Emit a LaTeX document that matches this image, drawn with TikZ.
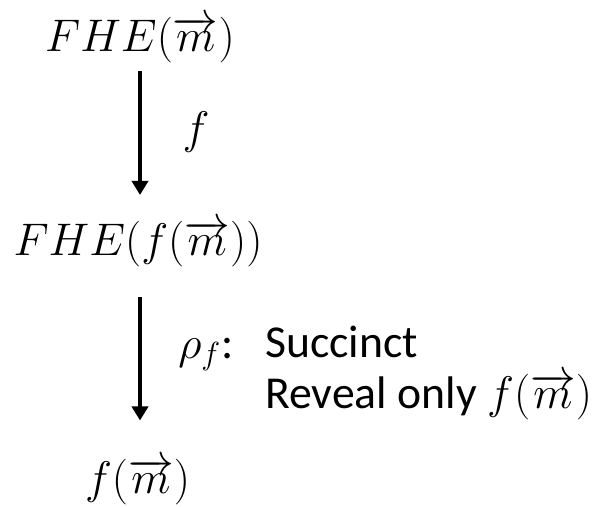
\RequirePackage{fix-cm}
\documentclass[tikz,border=0pt]{standalone}
\usepackage{fontspec}
\setmainfont{Carlito}
\usetikzlibrary{arrows.meta}

\tikzset{
  expr/.style={inner sep=0pt, anchor=base},
  step arrow/.style={-{Triangle[length=0.28cm,width=0.32cm]}, line width=2.6pt}
}

\begin{document}
\fontsize{26}{32}\selectfont
\begin{tikzpicture}
        \useasboundingbox (0,0) rectangle (12.28,-10.12);

        % Expresiones
        \node[expr] (enc) at (2.80,-1.02) {$FHE(\overrightarrow{m})$};
        \node[expr] (encf) at (2.76,-5.10) {$FHE(f(\overrightarrow{m}))$};
        \node[expr] (res) at (2.75,-9.86) {$f(\overrightarrow{m})$};

        % Flechas
        \draw[step arrow, shorten <=0.17cm, shorten >=0.50cm] (enc.south) -- (enc.south |- encf.north)
            node[midway, right=0.50cm, yshift=0.18cm] (flbl) {$f$};
        \draw[step arrow, shorten <=0.61cm, shorten >=0.75cm] (enc.south |- encf.south) -- (enc.south |- res.north);

        % Etiqueta de rho
        \node[inner sep=0pt, anchor=base west] (rho) at (3.56,-7.16) {$\rho_f$:};
        \node[inner sep=0pt, anchor=base west, align=left] (props) at (5.30,-8.16) {Succinct\\[-3pt]Reveal only $f(\overrightarrow{m})$};
    \end{tikzpicture}
\end{document}
